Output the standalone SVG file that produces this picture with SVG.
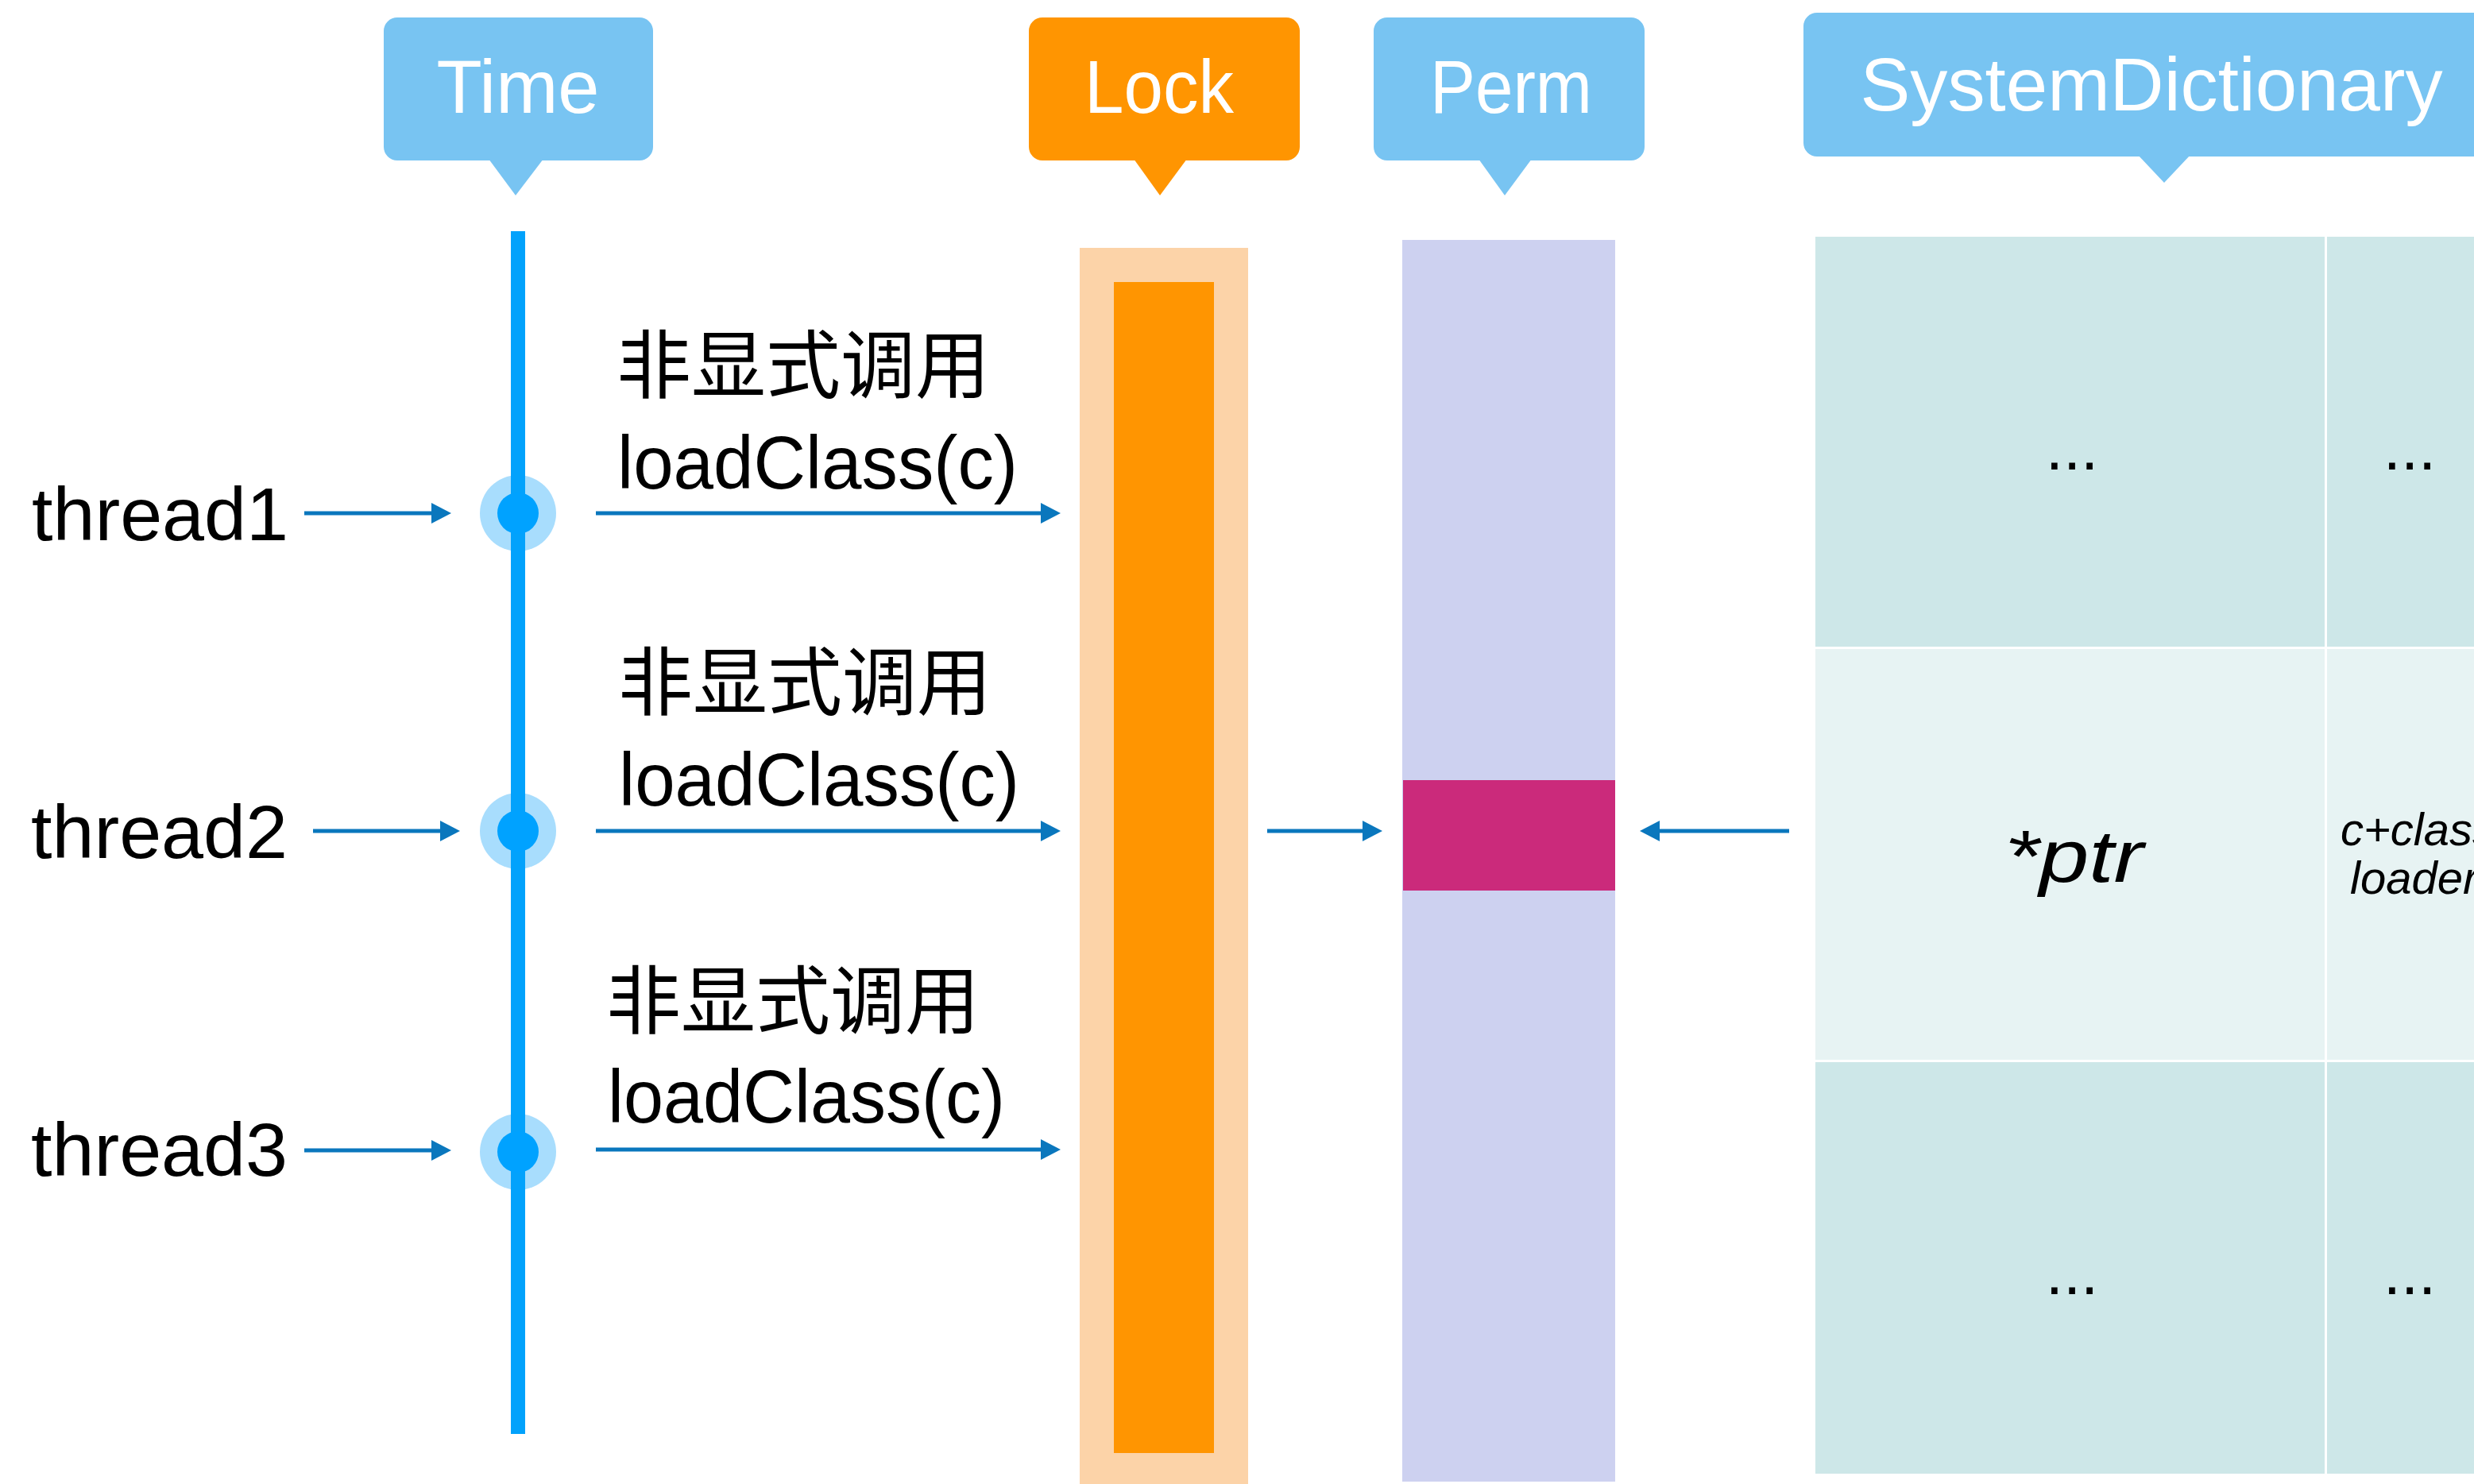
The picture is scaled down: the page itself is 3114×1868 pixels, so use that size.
<svg xmlns="http://www.w3.org/2000/svg" width="3114" height="1868" viewBox="0 0 3114 1868">
  <defs>
    <marker id="arrowhead" viewBox="0 0 25 26" refX="0" refY="13" markerWidth="25" markerHeight="26" markerUnits="userSpaceOnUse" orient="auto">
      <path d="M0,0 L25,13 L0,26 Z" fill="#0a77bd"/>
    </marker>
    <style>
      .label { font-family: "Liberation Sans", "Noto Sans CJK SC", sans-serif; fill: #000; }
      .cjk { font-family: "Noto Sans CJK SC", "Liberation Sans", sans-serif; fill: #000; font-size: 94px; }
      .callout-text { font-family: "Liberation Sans", "Noto Sans", sans-serif; fill: #fff; font-size: 95px; text-anchor: middle; }
      .blue-tag { fill: #78c4f2; }
      .orange-tag { fill: #ff9501; }
      .conn { stroke: #0a77bd; stroke-width: 5; fill: none; marker-end: url(#arrowhead); }
      .cell-dark { fill: #cde7e8; }
      .cell-light { fill: #e7f3f3; }
      .dots { font-family: "Liberation Sans", sans-serif; font-size: 80px; fill: #000; text-anchor: middle; }
      .ital { font-family: "Liberation Sans", sans-serif; font-style: italic; fill: #000; }
    </style>
  </defs>

  <rect width="3114" height="1868" fill="#fff"/>

  <!-- Callout tags -->
  <g id="tag-time">
    <rect class="blue-tag" x="483" y="22" width="339" height="180" rx="17"/>
    <path class="blue-tag" d="M615,200 L684,200 L649,246 Z"/>
    <text class="callout-text" x="652" y="142" textLength="205" lengthAdjust="spacingAndGlyphs">Time</text>
  </g>
  <g id="tag-lock">
    <rect class="orange-tag" x="1295" y="22" width="341" height="180" rx="17"/>
    <path class="orange-tag" d="M1427,200 L1494,200 L1460,246 Z"/>
    <text class="callout-text" x="1459" y="142" textLength="188" lengthAdjust="spacingAndGlyphs">Lock</text>
  </g>
  <g id="tag-perm">
    <rect class="blue-tag" x="1729" y="22" width="341" height="180" rx="17"/>
    <path class="blue-tag" d="M1861,200 L1928,200 L1894,246 Z"/>
    <text class="callout-text" x="1902" y="142" textLength="204" lengthAdjust="spacingAndGlyphs">Perm</text>
  </g>
  <g id="tag-systemdictionary">
    <rect class="blue-tag" x="2270" y="16" width="900" height="181" rx="17"/>
    <path class="blue-tag" d="M2691,195 L2757,195 L2724,230 Z"/>
    <text class="callout-text" x="2708" y="139" textLength="733" lengthAdjust="spacingAndGlyphs">SystemDictionary</text>
  </g>

  <!-- Timeline -->
  <g id="timeline">
    <circle cx="652" cy="646" r="48" fill="#a8ddfd"/>
    <circle cx="652" cy="1046" r="48" fill="#a8ddfd"/>
    <circle cx="652" cy="1450" r="48" fill="#a8ddfd"/>
    <rect x="643" y="291" width="18" height="1514" fill="#02a2fc"/>
    <circle cx="652" cy="646" r="26" fill="#00a2ff"/>
    <circle cx="652" cy="1046" r="26" fill="#00a2ff"/>
    <circle cx="652" cy="1450" r="26" fill="#00a2ff"/>
  </g>

  <!-- Threads -->
  <g id="thread1">
    <text class="label" x="40" y="680" font-size="95" textLength="323" lengthAdjust="spacingAndGlyphs">thread1</text>
  </g>
  <g id="thread2">
    <text class="label" x="39" y="1080" font-size="95" textLength="323" lengthAdjust="spacingAndGlyphs">thread2</text>
  </g>
  <g id="thread3">
    <text class="label" x="39" y="1480" font-size="95" textLength="323" lengthAdjust="spacingAndGlyphs">thread3</text>
  </g>

  <!-- Call labels -->
  <g id="call1">
    <text class="cjk" x="776" y="494">非显式调用</text>
    <text class="label" x="777" y="615" font-size="95" textLength="504" lengthAdjust="spacingAndGlyphs">loadClass(c)</text>
  </g>
  <g id="call2">
    <text class="cjk" x="778" y="893">非显式调用</text>
    <text class="label" x="779" y="1014" font-size="95" textLength="504" lengthAdjust="spacingAndGlyphs">loadClass(c)</text>
  </g>
  <g id="call3">
    <text class="cjk" x="763" y="1294">非显式调用</text>
    <text class="label" x="765" y="1413" font-size="95" textLength="500" lengthAdjust="spacingAndGlyphs">loadClass(c)</text>
  </g>

  <!-- Lock column -->
  <g id="lock">
    <rect x="1359" y="312" width="212" height="1556" fill="#fcd3a8"/>
    <rect x="1402" y="355" width="126" height="1474" fill="#ff9501"/>
  </g>

  <!-- Perm column -->
  <g id="perm">
    <rect x="1765" y="302" width="268" height="1563" fill="#cdd1f0"/>
    <rect x="1766" y="982" width="267" height="139" fill="#cb2a7b"/>
  </g>

  <!-- SystemDictionary table -->
  <g id="systemdictionary">
    <rect class="cell-dark" x="2285" y="298" width="641" height="516"/>
    <rect class="cell-dark" x="2929" y="298" width="200" height="516"/>
    <rect class="cell-light" x="2285" y="817" width="641" height="517"/>
    <rect class="cell-light" x="2929" y="817" width="200" height="517"/>
    <rect class="cell-dark" x="2285" y="1337" width="641" height="518"/>
    <rect class="cell-dark" x="2929" y="1337" width="200" height="518"/>
    <text class="dots" x="2608" y="591">...</text>
    <text class="dots" x="3033" y="591">...</text>
    <text class="ital" x="2523" y="1110" font-size="92" textLength="175" lengthAdjust="spacingAndGlyphs">*ptr</text>
    <text class="ital" x="2946" y="1064" font-size="58">c+class</text>
    <text class="ital" x="2958" y="1125" font-size="58">loader</text>
    <text class="dots" x="2608" y="1629">...</text>
    <text class="dots" x="3033" y="1629">...</text>
  </g>

  <!-- Connectors -->
  <g id="connectors">
    <line class="conn" x1="383" y1="646" x2="543" y2="646"/>
    <line class="conn" x1="394" y1="1046" x2="554" y2="1046"/>
    <line class="conn" x1="383" y1="1448" x2="543" y2="1448"/>
    <line class="conn" x1="750" y1="646" x2="1310" y2="646"/>
    <line class="conn" x1="750" y1="1046" x2="1310" y2="1046"/>
    <line class="conn" x1="750" y1="1447" x2="1310" y2="1447"/>
    <line class="conn" x1="1595" y1="1046" x2="1715" y2="1046"/>
    <line class="conn" x1="2252" y1="1046" x2="2089" y2="1046"/>
  </g>
</svg>
